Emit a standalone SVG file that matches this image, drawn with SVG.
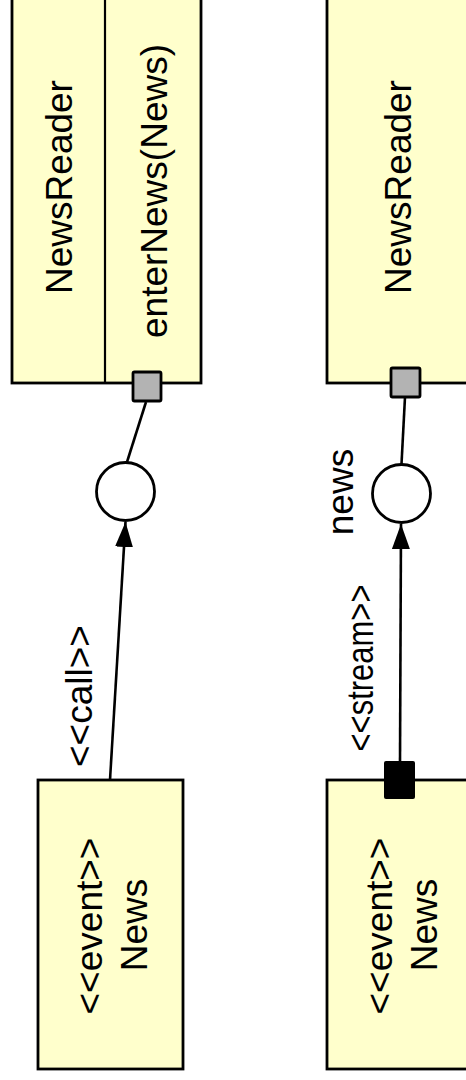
<svg xmlns="http://www.w3.org/2000/svg" width="466" height="1080" viewBox="0 0 466 1080">
<style>
.box{fill:#ffffcc;stroke:#000;stroke-width:2.8}
.lbl{font-family:"Liberation Sans",Arial,sans-serif;font-size:37px;fill:#000;text-anchor:middle}
.port{fill:#b3b3b3;stroke:#000;stroke-width:2.8}
.con{fill:none;stroke:#000;stroke-width:2.6}
.iface{fill:#fff;stroke:#000;stroke-width:2.8}
</style>
<defs>
<marker id="arr" markerWidth="26" markerHeight="18" refX="25" refY="9" orient="auto" markerUnits="userSpaceOnUse">
<path d="M0,0 L25,9 L0,18 Z" fill="#000"/>
</marker>
</defs>
<rect width="466" height="1080" fill="#fff"/>
<g id="newsreader-left">
<rect class="box" x="12" y="-10" width="189" height="393"/>
<line x1="105" y1="-10" x2="105" y2="383" stroke="#000" stroke-width="2.2"/>
<text class="lbl" x="72" y="187" transform="rotate(-90 72 187)">NewsReader</text>
<text class="lbl" x="167" y="191" transform="rotate(-90 167 191)">enterNews(News)</text>
<rect class="port" x="133" y="372" width="28" height="29" rx="1.5"/>
</g>
<g id="newsreader-right">
<rect class="box" x="327" y="-10" width="150" height="393"/>
<text class="lbl" x="411" y="187" transform="rotate(-90 411 187)">NewsReader</text>
<rect class="port" x="391" y="368" width="29" height="29" rx="1.5"/>
</g>
<g id="iface-left">
<circle class="iface" cx="125.5" cy="491.5" r="29"/>
</g>
<g id="iface-right">
<circle class="iface" cx="401.5" cy="493.5" r="29"/>
<text class="lbl" x="353" y="492" transform="rotate(-90 353 492)">news</text>
</g>
<g id="news-left">
<rect class="box" x="38" y="780" width="145" height="289"/>
<text class="lbl" x="102" y="926" transform="rotate(-90 102 926)">&lt;&lt;event&gt;&gt;</text>
<text class="lbl" x="147" y="925" transform="rotate(-90 147 925)">News</text>
</g>
<g id="news-right">
<rect class="box" x="327" y="780" width="150" height="289"/>
<text class="lbl" x="392" y="926" transform="rotate(-90 392 926)">&lt;&lt;event&gt;&gt;</text>
<text class="lbl" x="437" y="925" transform="rotate(-90 437 925)">News</text>
<rect x="384" y="761" width="31" height="38" rx="2" fill="#000"/>
</g>
<g id="connectors">
<line class="con" x1="146" y1="402" x2="127" y2="462"/>
<line class="con" x1="405" y1="397" x2="401.5" y2="464"/>
<line class="con" x1="110" y1="780" x2="125.5" y2="522" marker-end="url(#arr)"/>
<line class="con" x1="400" y1="762" x2="401" y2="524" marker-end="url(#arr)"/>
<text class="lbl" x="92" y="696" transform="rotate(-90 92 696)">&lt;&lt;call&gt;&gt;</text>
<text class="lbl" x="373" y="668" textLength="167" lengthAdjust="spacingAndGlyphs" transform="rotate(-90 373 668)">&lt;&lt;stream&gt;&gt;</text>
</g>
</svg>
